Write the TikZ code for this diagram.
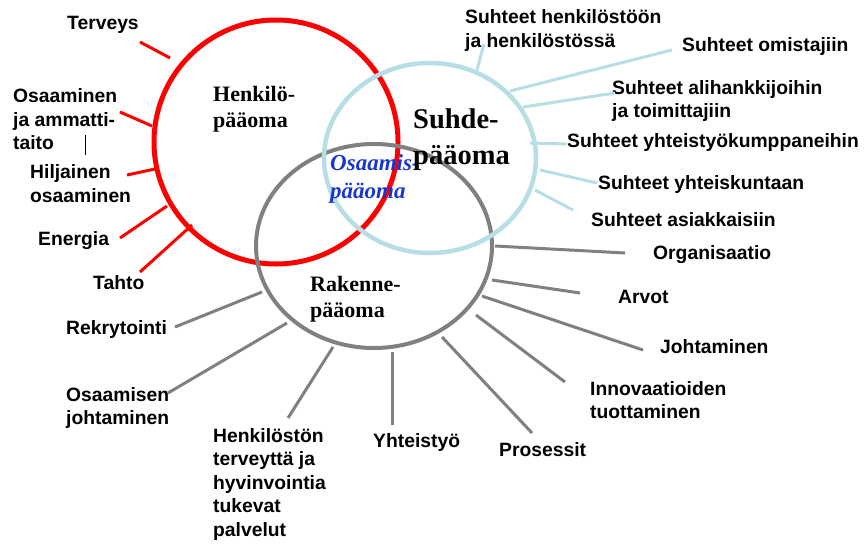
\documentclass[tikz,border=0pt]{standalone}
\usepackage{fontspec}
\setmainfont{Liberation Serif}
\setsansfont{Liberation Sans}
\usetikzlibrary{positioning}
\definecolor{suhdeblue}{RGB}{182,222,228}
\definecolor{rakgray}{RGB}{128,128,128}
\definecolor{osblue}{RGB}{25,55,205}

\begin{document}
\begin{tikzpicture}[x=1pt,y=-1pt,
    lbl/.style={font=\sffamily\bfseries\fontsize{19.3}{23.5}\selectfont,
      align=left,anchor=west,inner sep=0pt},
    title/.style={font=\bfseries\fontsize{22}{26}\selectfont,
      align=left,anchor=west,inner sep=0pt},
    ring/.style={draw,inner sep=0pt,line width=#1},
    redline/.style={draw=red,line width=3pt},
    blueline/.style={draw=suhdeblue,line width=3pt},
    grayline/.style={draw=rakgray,line width=3pt}]

  \useasboundingbox (0,0) rectangle (866,543);

  % circles: red below, gray, blue on top
  \draw[ring=5pt,red] (276,142) circle (122) coordinate (Henkilo);
  \draw[ring=4pt,rakgray] (374,246) ellipse [x radius=118,y radius=102] coordinate (Rakenne);
  \draw[ring=4.5pt,suhdeblue] (430,158) ellipse [x radius=106,y radius=95] coordinate (Suhde);

  % titles
  \node[title] (HenkiloT) at (213,109) {Henkilö-\\pääoma};
  \node[title,font=\bfseries\itshape\fontsize{23}{28}\selectfont,text=osblue]
    (OsaamisT) at (330,179) {Osaamis-\\pääoma};
  \node[title,font=\bfseries\fontsize{28.5}{36}\selectfont] (SuhdeT) at (413,140) {Suhde-\\pääoma};
  \node[title] (RakenneT) at (310,299) {Rakenne-\\pääoma};

  % Henkilöpääoma
  \node[lbl] (Terveys) at (67,25) {Terveys};
  \node[lbl] (Osaaminen) at (13,119.5) {Osaaminen\\ja ammatti-\\taito};
  \node[lbl] (Hiljainen) at (30,183.5) {Hiljainen\\osaaminen};
  \node[lbl] (Energia) at (38,241) {Energia};
  \node[lbl] (Tahto) at (93,283) {Tahto};

  % Suhdepääoma
  \node[lbl] (Henkilosto) at (465,30.5) {Suhteet henkilöstöön\\ja henkilöstössä};
  \node[lbl] (Omistajat) at (682,47) {Suhteet omistajiin};
  \node[lbl] (Alihankkijat) at (612,101) {Suhteet alihankkijoihin\\ja toimittajiin};
  \node[lbl] (Kumppanit) at (567,143) {Suhteet yhteistyökumppaneihin};
  \node[lbl] (Yhteiskunta) at (598,185) {Suhteet yhteiskuntaan};
  \node[lbl] (Asiakkaat) at (591,220) {Suhteet asiakkaisiin};

  % Rakennepääoma
  \node[lbl] (Organisaatio) at (653,255) {Organisaatio};
  \node[lbl] (Arvot) at (618,297) {Arvot};
  \node[lbl] (Johtaminen) at (660,347) {Johtaminen};
  \node[lbl] (Innovaatiot) at (590,400) {Innovaatioiden\\tuottaminen};
  \node[lbl] (Prosessit) at (499,450) {Prosessit};
  \node[lbl] (Yhteistyo) at (373,443) {Yhteistyö};
  \node[lbl] (Hyvinvointi) at (213,484.5) {Henkilöstön\\terveyttä ja\\hyvinvointia\\tukevat\\palvelut};
  \node[lbl] (OsJohtaminen) at (66,408) {Osaamisen\\johtaminen};
  \node[lbl] (Rekrytointi) at (66,330) {Rekrytointi};

  % spoke ends
  \coordinate (t1) at (140,42);  \coordinate (t2) at (170,58);
  \coordinate (o1) at (120,112); \coordinate (o2) at (152,126);
  \coordinate (h1) at (127,175); \coordinate (h2) at (155,169);
  \coordinate (e1) at (120,238); \coordinate (e2) at (167,206);
  \coordinate (a1) at (140,272); \coordinate (a2) at (192,225);
  \coordinate (v1) at (85,135);  \coordinate (v2) at (85,155);

  \coordinate (s1) at (477,70);  \coordinate (s2) at (484,44);
  \coordinate (m1) at (510,91);  \coordinate (m2) at (672,50);
  \coordinate (l1) at (523,107); \coordinate (l2) at (615,93);
  \coordinate (k1) at (530,143); \coordinate (k2) at (566,144);
  \coordinate (y1) at (540,170); \coordinate (y2) at (597,183);
  \coordinate (c1) at (535,190); \coordinate (c2) at (573,210);

  \coordinate (g1) at (495,246); \coordinate (g2) at (625,253);
  \coordinate (r1) at (492,280); \coordinate (r2) at (580,293);
  \coordinate (j1) at (482,296); \coordinate (j2) at (643,350);
  \coordinate (i1) at (476,315); \coordinate (i2) at (565,382);
  \coordinate (p1) at (442,337); \coordinate (p2) at (532,433);
  \coordinate (x1) at (392,352); \coordinate (x2) at (392,425);
  \coordinate (w1) at (333,347); \coordinate (w2) at (288,418);
  \coordinate (n1) at (287,323); \coordinate (n2) at (168,393);
  \coordinate (k3) at (262,292); \coordinate (k4) at (175,327);

  \path[redline] (t1) edge (t2) (o1) edge (o2) (h1) edge (h2)
                 (e1) edge (e2) (a1) edge (a2);
  \draw[line width=0.8pt] (v1) -- (v2);
  \path[blueline] (s1) edge (s2) (m1) edge (m2) (l1) edge (l2)
                  (k1) edge (k2) (y1) edge (y2) (c1) edge (c2);
  \path[grayline] (g1) edge (g2) (r1) edge (r2) (j1) edge (j2)
                  (i1) edge (i2) (p1) edge (p2) (x1) edge (x2)
                  (w1) edge (w2) (n1) edge (n2) (k3) edge (k4);

\end{tikzpicture}
\end{document}
